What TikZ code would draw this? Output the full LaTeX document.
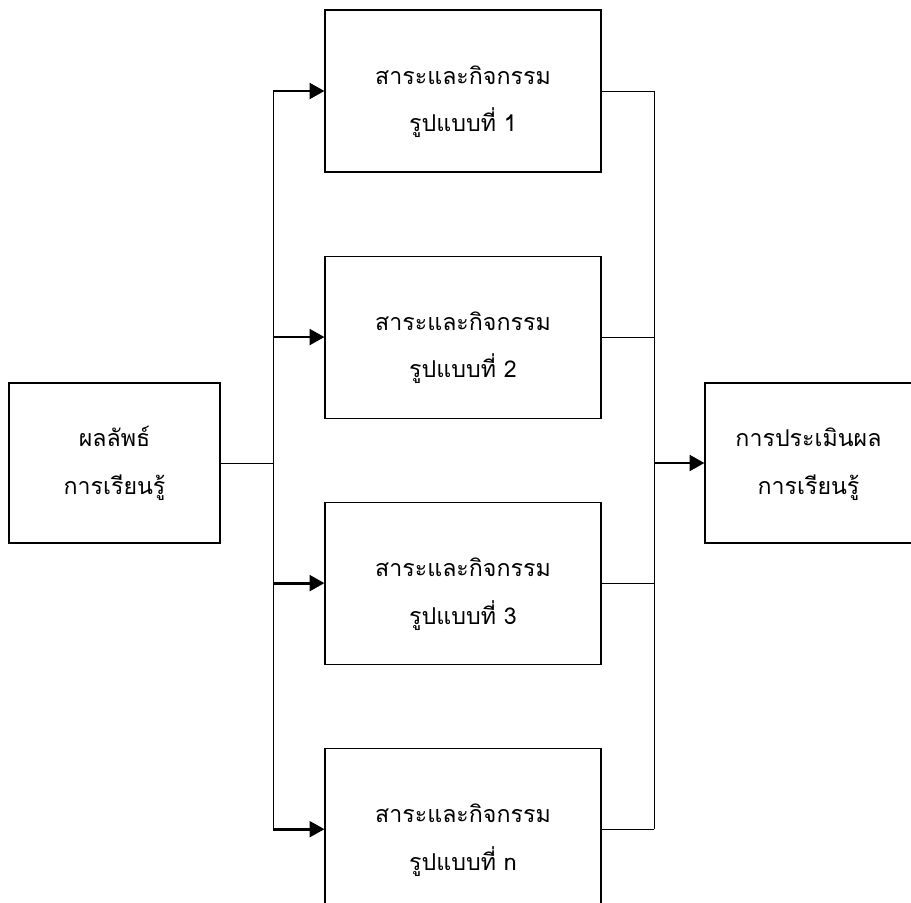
\documentclass[tikz,border=0pt]{standalone}
\usepackage{fontspec}
\newfontfamily\thaifont[Script=Thai]{Loma}
\usetikzlibrary{arrows.meta,positioning}

\begin{document}
\begin{tikzpicture}[node distance=1.66cm,
    box/.style={draw, rectangle, line width=0.6pt, align=center, text height=50pt,
        font=\thaifont\fontsize{13.2}{27}\selectfont},
    sidebox/.style={box, text height=39pt, minimum width=4.22cm, minimum height=3.2cm},
    arr/.style={-{Triangle[length=8.5pt,width=9pt]}, line width=1.6pt},
    link/.style={line width=0.5pt}]
    \useasboundingbox (0,0) rectangle (18.22,-18.04);

    \node (outcome) [sidebox] at (2.29,-9.26) {ผลลัพธ์\\การเรียนรู้};
    \node (act1) [box, minimum width=5.52cm, minimum height=3.24cm] at (9.26,-1.82) {สาระและกิจกรรม\\รูปแบบที่ 1};
    \node (act2) [box, minimum width=5.52cm, minimum height=3.24cm, below=of act1] {สาระและกิจกรรม\\รูปแบบที่ 2};
    \node (act3) [box, minimum width=5.52cm, minimum height=3.24cm, below=of act2] {สาระและกิจกรรม\\รูปแบบที่ 3};
    \node (act4) [box, minimum width=5.52cm, minimum height=3.24cm, below=of act3] {สาระและกิจกรรม\\รูปแบบที่ n};
    \node (eval) [sidebox, minimum width=4.14cm] at (16.17,-9.26) {การประเมินผล\\การเรียนรู้};

    \coordinate (split) at (5.46,-9.18);
    \coordinate (merge) at (13.08,-9.3);

    % left side: fan out
    \draw [link] (outcome.east) -- (outcome.east -| split);
    \draw [link] (split |- act1.west) -- (split |- act4.west);
    \foreach \i in {1,...,4}
        \draw [arr] (split |- act\i.west) -- (act\i.west);

    % right side: collect
    \foreach \i in {1,...,4}
        \draw [link] (act\i.east) -- (merge |- act\i.east);
    \draw [link] (merge |- act1.east) -- (merge |- act4.east);
    \draw [arr] (merge |- eval.west) -- (eval.west);

\end{tikzpicture}
\end{document}
